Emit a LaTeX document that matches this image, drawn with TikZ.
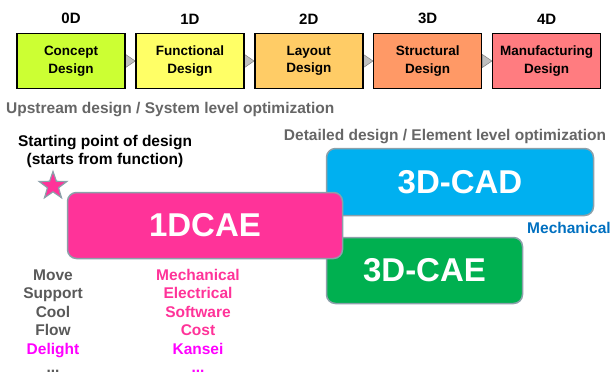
\documentclass[tikz,border=0pt]{standalone}
\usepackage{fontspec}
\setmainfont{Liberation Sans}
\usetikzlibrary{positioning, shapes.geometric, backgrounds}

\definecolor{conceptgreen}{HTML}{CCFF33}
\definecolor{functionalyellow}{HTML}{FFFF66}
\definecolor{layoutorange}{HTML}{FFCC66}
\definecolor{structuralorange}{HTML}{FF9966}
\definecolor{manufacturingred}{HTML}{FF7C80}
\definecolor{onedpink}{HTML}{FF3399}
\definecolor{cadblue}{HTML}{00B0F0}
\definecolor{caegreen}{HTML}{00B050}
\definecolor{edgegrey}{RGB}{140,160,170}
\definecolor{textgrey}{HTML}{666666}
\definecolor{listgrey}{HTML}{595959}
\definecolor{kanseimagenta}{HTML}{FF00FF}
\definecolor{mechblue}{HTML}{0070C0}
\definecolor{arrowgrey}{HTML}{BFBFBF}

\begin{document}
\begin{tikzpicture}[
    x=1pt, y=-1pt,
    stage/.style={rectangle, draw=black, line width=1.4pt, minimum width=108pt,
                  minimum height=55pt, inner sep=0pt, align=center,
                  font=\fontsize{13.5}{17.5}\selectfont\bfseries},
    dlabel/.style={inner sep=0pt, font=\fontsize{15}{18}\selectfont\bfseries},
    tool/.style={rectangle, draw=edgegrey, line width=1.5pt, rounded corners=9pt,
                 inner sep=0pt, text=white, font=\fontsize{33}{40}\selectfont\bfseries},
    note/.style={inner sep=0pt, align=center, font=\fontsize{15.5}{18.5}\selectfont\bfseries},
    arr/.style={fill=arrowgrey, draw=gray, line width=0.5pt},
]
\useasboundingbox (0,0) rectangle (612,376);

% Design stages
\node[stage, fill=conceptgreen] (concept) at (71,61) {Concept\\Design};
\node[stage, fill=functionalyellow, right=9.5pt of concept] (functional) {Functional\\Design};
\node[stage, fill=layoutorange, right=9.5pt of functional] (layout) {Layout\\Design};
\node[stage, fill=structuralorange, right=9.5pt of layout] (structural) {Structural\\Design};
\node[stage, fill=manufacturingred, right=9.5pt of structural] (manufacturing) {Manufacturing\\Design};

% Dimension labels
\node[dlabel, above=8.5pt of concept] (d0) {0D};
\node[dlabel, above=8.5pt of functional] (d1) {1D};
\node[dlabel, above=8.5pt of layout] (d2) {2D};
\node[dlabel, above=8.5pt of structural] (d3) {3D};
\node[dlabel, above=8.5pt of manufacturing] (d4) {4D};

% Arrows between stages
\begin{scope}[on background layer]
\draw[arr] ([yshift=6.5pt]concept.east) -- (functional.west) -- ([yshift=-6.5pt]concept.east) -- cycle;
\draw[arr] ([yshift=6.5pt]functional.east) -- (layout.west) -- ([yshift=-6.5pt]functional.east) -- cycle;
\draw[arr] ([yshift=6.5pt]layout.east) -- (structural.west) -- ([yshift=-6.5pt]layout.east) -- cycle;
\draw[arr] ([yshift=6.5pt]structural.east) -- (manufacturing.west) -- ([yshift=-6.5pt]structural.east) -- cycle;
\end{scope}

% Headings
\node[note, text=textgrey, anchor=west] (upstream) at (6,110) {Upstream design / System level optimization};
\node[note, text=textgrey] (detailed) at (445,137) {Detailed design / Element level optimization};
\node[note, text=black] (startnote) at (105,151.5) {Starting point of design\\(starts from function)};

% Tools
\node[tool, fill=cadblue, minimum width=267pt, minimum height=67pt] (cad) at (460,182) {3D-CAD};
\node[tool, fill=caegreen, minimum width=196pt, minimum height=66pt] (cae) at (424.5,270.5) {3D-CAE};
\node[tool, fill=onedpink, minimum width=275pt, minimum height=66pt] (onedcae) at (205,225.5) {1DCAE};

% Starting point
\node[star, star points=5, star point ratio=2.5, minimum size=29pt, inner sep=0pt,
      fill=onedpink, draw=edgegrey, line width=1.2pt] (start) at (53,186) {};

% Lists
\node[note, text=mechblue] (mech) at (569,228) {Mechanical};
\node[note, text=listgrey] (functions) at (53,321) {Move\\Support\\Cool\\Flow\\\textcolor{kanseimagenta}{Delight}\\...};
\node[note, text=onedpink] (domains) at (198,321) {Mechanical\\Electrical\\Software\\Cost\\\textcolor{kanseimagenta}{Kansei}\\\textcolor{kanseimagenta}{...}};

\end{tikzpicture}
\end{document}
